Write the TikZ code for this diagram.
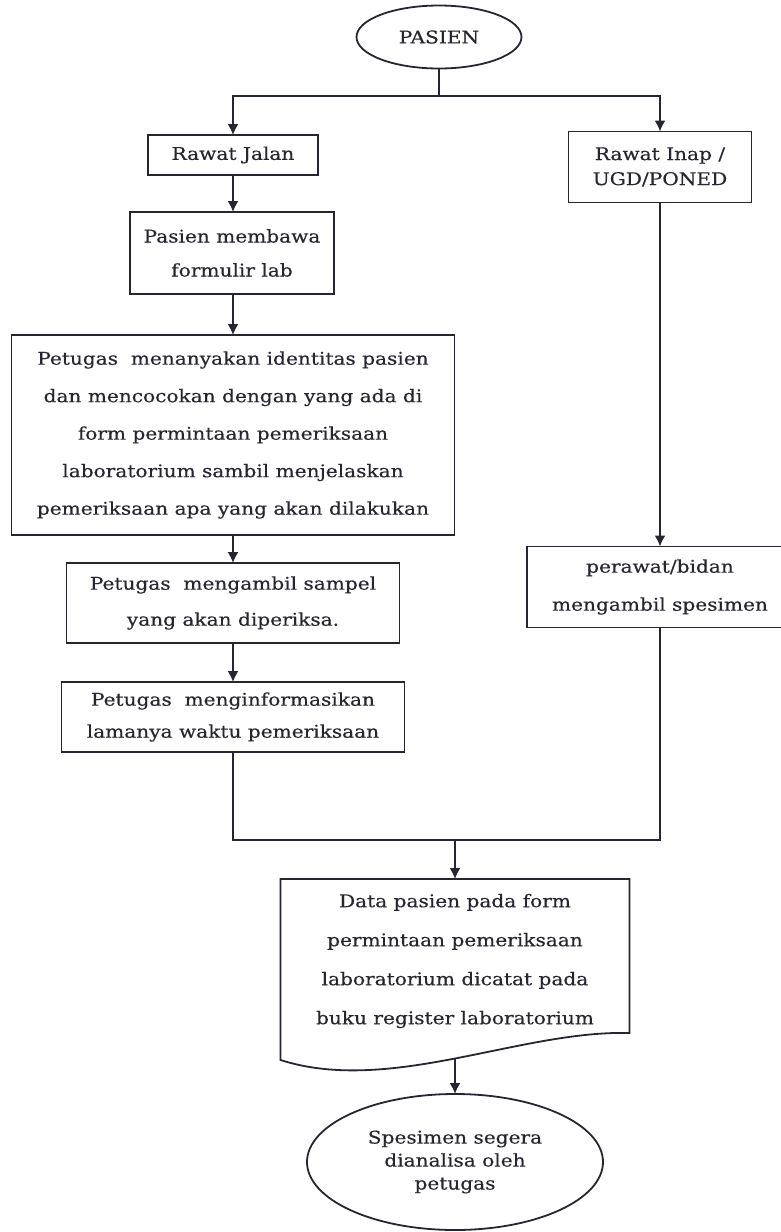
\documentclass[tikz,border=0pt]{standalone}
\usepackage{fontspec}
\setmainfont[FakeStretch=1.15, FakeBold=0.4]{DejaVu Serif}
\usepackage{xcolor}
\usetikzlibrary{arrows,arrows.meta,calc,positioning,shapes.geometric}
\definecolor{ink}{RGB}{38,38,48}
\tikzset{
	flowline/.style={draw=ink, line width=1.8bp},
	LineSp/.style={font=\fontsize{17.5bp}{#1}\selectfont}
}

\begin{document}
\begin{tikzpicture}[x=1bp, y=-1bp, >={Latex[length=11bp,width=11bp]},
		BoxStyle/.style={draw=ink, line width=1.8bp, text=ink, align=center, inner sep=0pt, outer sep=0pt}]
		\useasboundingbox (0,0) rectangle (781,1232);
		\node[BoxStyle, ellipse, minimum width=165bp, minimum height=63bp, LineSp=18bp] (pasien) at (439,37) {PASIEN};
		\node[BoxStyle, minimum width=170bp, minimum height=40bp, LineSp=18bp] (jalan) at (233,155) {Rawat Jalan};
		\node[BoxStyle, minimum width=183bp, minimum height=71bp, LineSp=25bp] (inap) at (660,167) {Rawat Inap /\\UGD/PONED};
		\node[BoxStyle, minimum width=204bp, minimum height=82bp, LineSp=34bp] (membawa) at (232,253) {Pasien membawa\\formulir lab};
		\node[BoxStyle, minimum width=443bp, minimum height=200bp, LineSp=37.5bp] (identitas) at (233,435) {Petugas~ menanyakan identitas pasien\\dan mencocokan dengan yang ada di\\form permintaan pemeriksaan\\laboratorium sambil menjelaskan\\pemeriksaan apa yang akan dilakukan};
		\node[BoxStyle, minimum width=333bp, minimum height=80bp, LineSp=36bp] (sampel) at (233,603) {Petugas~ mengambil sampel\\yang akan diperiksa.};
		\node[BoxStyle, minimum width=343bp, minimum height=70bp, LineSp=32bp] (informasi) at (233,717) {Petugas~ menginformasikan\\lamanya waktu pemeriksaan};
		\node[BoxStyle, minimum width=266bp, minimum height=81bp, LineSp=38bp] (perawat) at (660,587) {perawat/bidan\\mengambil spesimen};
		\node[BoxStyle, draw=none, anchor=north, minimum width=349bp, minimum height=164bp, LineSp=39bp] (data) at (455,879) {Data pasien pada form\\permintaan pemeriksaan\\laboratorium dicatat pada\\buku register laboratorium};
		\node[BoxStyle, ellipse, minimum width=296bp, minimum height=136bp, LineSp=23bp] (spesimen) at (455,1162) {Spesimen segera\\dianalisa oleh\\petugas};
		\draw[flowline] (data.north west) -- (data.north east) -- ([yshift=-154bp]data.north east) .. controls (520,1030) and (390,1095) .. ([yshift=-181bp]data.north west) -- cycle;
		\coordinate (split) at (439,96);
		\coordinate (merge) at (455,840);
		\coordinate (wave) at (455,1058);
		\draw[flowline] (pasien.south) -- (split);
		\draw[flowline, ->] (split) -| (jalan.north);
		\draw[flowline, ->] (split) -| (inap.north);
		\draw[flowline, ->] (jalan.south) -- (membawa.north -| jalan.south);
		\draw[flowline, ->] (membawa.south -| jalan.south) -- (identitas.north);
		\draw[flowline, ->] (identitas.south) -- (sampel.north);
		\draw[flowline, ->] (sampel.south) -- (informasi.north);
		\draw[flowline, ->] (inap.south) -- (perawat.north);
		\draw[flowline] (informasi.south) |- (merge) -| (perawat.south);
		\draw[flowline, ->] (merge) -- (data.north);
		\draw[flowline, ->] (wave) -- (spesimen.north);
	\end{tikzpicture}
\end{document}
